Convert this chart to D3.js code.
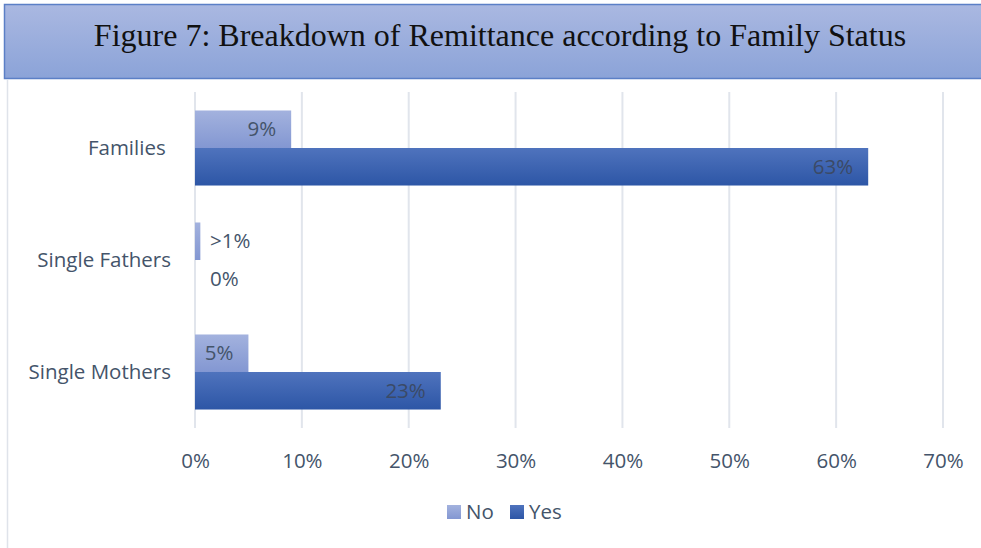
<!DOCTYPE html>
<html>
<head>
<meta charset="utf-8">
<script src="https://cdn.jsdelivr.net/npm/d3@7"></script>
<style>
  html, body { margin: 0; padding: 0; background: #fff; }
  svg { display: block; }
</style>
</head>
<body>
<svg id="chart" width="981" height="548"></svg>
<script>
// Family status categories, top to bottom
const categories = ["Families", "Single Fathers", "Single Mothers"];
// Share of respondents (%) who do not / do send remittances
const noValues = [9, 0.5, 5];
const yesValues = [63, 0, 23];
// Printed data labels
const noLabels = ["9%", ">1%", "5%"];
const yesLabels = ["63%", "0%", "23%"];
const xTicks = [0, 10, 20, 30, 40, 50, 60, 70];
const seriesNames = ["No", "Yes"];

const svg = d3.select("#chart");
const font = "Open Sans, Liberation Sans, sans-serif";
const textColor = "#44546a";
const fs = 20.5;

const defs = svg.append("defs");
function grad(id, top, bottom) {
  const g = defs.append("linearGradient").attr("id", id)
    .attr("x1", 0).attr("y1", 0).attr("x2", 0).attr("y2", 1);
  g.append("stop").attr("offset", "0%").attr("stop-color", top);
  g.append("stop").attr("offset", "100%").attr("stop-color", bottom);
}
grad("gTitle", "#aab8e1", "#8ba3d8");
grad("gNo", "#a3b2de", "#8397d2");
grad("gYes", "#4f73bd", "#2d56a6");

// Title banner (runs past the right edge)
svg.append("rect").attr("x", 4.5).attr("y", 4.5).attr("width", 990).attr("height", 74)
  .attr("fill", "url(#gTitle)").attr("stroke", "#5b7fc6").attr("stroke-width", 1.5);
svg.append("text").attr("x", 500).attr("y", 46).attr("text-anchor", "middle")
  .attr("font-family", "Liberation Serif, Times New Roman, serif").attr("font-size", 32)
  .attr("fill", "#111").text("Figure 7: Breakdown of Remittance according to Family Status");

// Left frame edge of the chart area
svg.append("line").attr("x1", 7.5).attr("x2", 7.5).attr("y1", 80).attr("y2", 548)
  .attr("stroke", "#dfe3ea").attr("stroke-width", 1.5);

const x = d3.scaleLinear().domain([0, 70]).range([195, 943]);
const y = d3.scaleBand().domain(categories).range([92, 428]).paddingInner(0.33).paddingOuter(0.165);
const sub = d3.scaleBand().domain(seriesNames).range([0, y.bandwidth()]);

// Vertical gridlines
svg.append("g").selectAll("line").data(xTicks).join("line")
  .attr("x1", d => x(d)).attr("x2", d => x(d))
  .attr("y1", 92).attr("y2", 428)
  .attr("stroke", "#e1e5ec").attr("stroke-width", 2);

// X axis tick labels
const xAxis = d3.axisBottom(x).tickValues(xTicks).tickFormat(d => d + "%").tickSize(0).tickPadding(0);
const gx = svg.append("g").attr("transform", "translate(0,453)").call(xAxis);
gx.select(".domain").remove();
gx.selectAll("text").attr("font-family", font).attr("font-size", fs).attr("fill", textColor)
  .attr("dy", "0.71em");

// Category labels
const yAxis = d3.axisLeft(y).tickSize(0).tickPadding(0).tickFormat(d => d === "Families" ? "Families\u00a0" : d);
const gy = svg.append("g").attr("transform", "translate(171,0)").call(yAxis);
gy.select(".domain").remove();
gy.selectAll("text").attr("font-family", font).attr("font-size", fs).attr("fill", textColor);

const rows = categories.map((c, i) => ({ c, no: noValues[i], yes: yesValues[i], nl: noLabels[i], yl: yesLabels[i] }));

// Bars
const g = svg.append("g");
g.selectAll(".no").data(rows).join("rect").attr("class", "no")
  .attr("x", x(0)).attr("y", d => y(d.c) + sub("No"))
  .attr("width", d => x(d.no) - x(0)).attr("height", sub.bandwidth())
  .attr("fill", "url(#gNo)");
g.selectAll(".yes").data(rows).join("rect").attr("class", "yes")
  .attr("x", x(0)).attr("y", d => y(d.c) + sub("Yes"))
  .attr("width", d => x(d.yes) - x(0)).attr("height", sub.bandwidth())
  .attr("fill", "url(#gYes)");

// Data labels: inside end when the bar is wide enough, otherwise just past the bar
function labelX(v) {
  const w = x(v) - x(0);
  return w > 40 ? { x: x(v) - 15, anchor: "end" } : { x: x(0) + 15, anchor: "start" };
}
g.selectAll(".nol").data(rows).join("text").attr("class", "nol")
  .each(function (d) {
    const p = labelX(d.no);
    d3.select(this).attr("x", p.x).attr("text-anchor", p.anchor);
  })
  .attr("y", d => y(d.c) + sub("No") + sub.bandwidth() / 2).attr("dy", "0.35em")
  .attr("font-family", font).attr("font-size", fs).attr("fill", "#44546a").text(d => d.nl);
g.selectAll(".yesl").data(rows).join("text").attr("class", "yesl")
  .each(function (d) {
    const p = labelX(d.yes);
    d3.select(this).attr("x", p.x).attr("text-anchor", p.anchor);
  })
  .attr("y", d => y(d.c) + sub("Yes") + sub.bandwidth() / 2).attr("dy", "0.35em")
  .attr("font-family", font).attr("font-size", fs)
  .attr("fill", d => (x(d.yes) - x(0) > 40 ? "#3b4a66" : "#44546a")).text(d => d.yl);

// Legend
const legend = svg.append("g").attr("transform", "translate(447,512)");
const items = [{ n: "No", f: "url(#gNo)", dx: 0 }, { n: "Yes", f: "url(#gYes)", dx: 63 }];
items.forEach(it => {
  legend.append("rect").attr("x", it.dx).attr("y", -7).attr("width", 14).attr("height", 14).attr("fill", it.f);
  legend.append("text").attr("x", it.dx + 19).attr("y", 0).attr("dy", "0.35em")
    .attr("font-family", font).attr("font-size", fs).attr("fill", textColor).text(it.n);
});
</script>
</body>
</html>
